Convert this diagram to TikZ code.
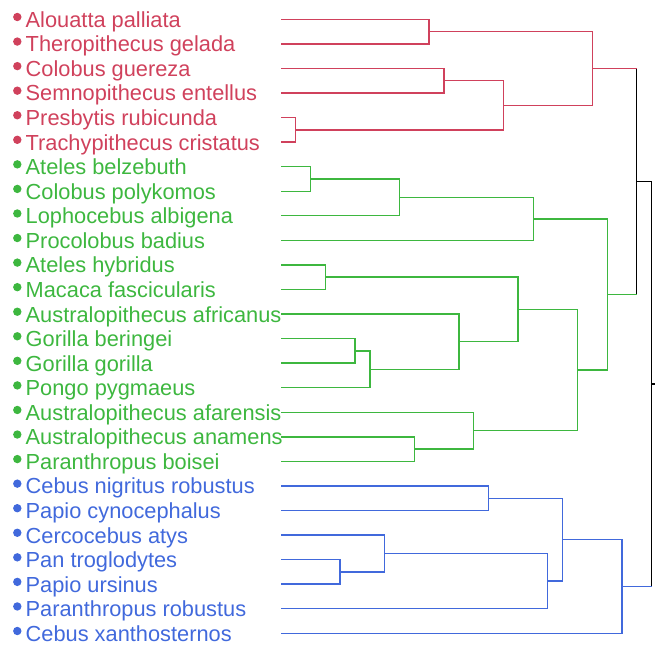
\documentclass[tikz,border=0pt]{standalone}
\usepackage{fontspec}
\setmainfont{Liberation Sans}
\usepackage{tikz}
\usetikzlibrary{calc}

\definecolor{cladered}{RGB}{208,65,92}
\definecolor{cladegreen}{RGB}{61,183,63}
\definecolor{cladeblue}{RGB}{65,105,220}

\tikzset{
  branch/.style={line width=1.4pt},
  leafdot/.style={circle, fill, inner sep=0pt, minimum size=8.4pt},
  leaflabel/.style={anchor=base west, inner sep=0pt,
    font=\fontsize{21.8}{24}\selectfont},
}

\begin{document}
\begin{tikzpicture}[x=1pt,y=-1pt]
\useasboundingbox (0,0) rectangle (655,645);

\foreach[count=\k] \name/\col in {
  Alouatta palliata/cladered, Theropithecus gelada/cladered,
  Colobus guereza/cladered, Semnopithecus entellus/cladered,
  Presbytis rubicunda/cladered, Trachypithecus cristatus/cladered,
  Ateles belzebuth/cladegreen, Colobus polykomos/cladegreen,
  Lophocebus albigena/cladegreen, Procolobus badius/cladegreen,
  Ateles hybridus/cladegreen, Macaca fascicularis/cladegreen,
  Australopithecus africanus/cladegreen, Gorilla beringei/cladegreen,
  Gorilla gorilla/cladegreen, Pongo pygmaeus/cladegreen,
  Australopithecus afarensis/cladegreen, Australopithecus anamens/cladegreen,
  Paranthropus boisei/cladegreen,
  Cebus nigritus robustus/cladeblue, Papio cynocephalus/cladeblue,
  Cercocebus atys/cladeblue, Pan troglodytes/cladeblue,
  Papio ursinus/cladeblue, Paranthropus robustus/cladeblue,
  Cebus xanthosternos/cladeblue} {
  \pgfmathsetmacro\yy{19.3+24.56*(\k-1)}
  \coordinate (l\k) at (281,\yy);
  \node[leafdot, \col] (d\k) at (17.3,\yy-2.3) {};
  \node[leaflabel, text=\col] (t\k) at (25.5,\yy+8) {\name};
}

% clades: name / height / children / colour
\foreach \name/\x/\a/\b/\col in {
  c1/429/l1/l2/cladered, c2/444/l3/l4/cladered, c3/295.7/l5/l6/cladered,
  c4/503.3/c2/c3/cladered, c5/592.3/c1/c4/cladered,
  c6/310.3/l7/l8/cladegreen, c7/399.3/c6/l9/cladegreen,
  c8/533.3/c7/l10/cladegreen, c9/325.3/l11/l12/cladegreen,
  c10/355/l14/l15/cladegreen, c11/370/c10/l16/cladegreen,
  c12/459/l13/c11/cladegreen, c13/518/c9/c12/cladegreen,
  c14/414.3/l18/l19/cladegreen, c15/473.3/l17/c14/cladegreen,
  c16/577.3/c13/c15/cladegreen, c17/607.3/c8/c16/cladegreen,
  c18/636.7/c5/c17/black,
  c19/488.7/l20/l21/cladeblue, c20/340/l23/l24/cladeblue,
  c21/384.7/l22/c20/cladeblue, c22/547.7/c21/l25/cladeblue,
  c23/562.7/c19/c22/cladeblue, c24/622/c23/l26/cladeblue,
  c25/651.7/c18/c24/black} {
  \path ($(\a)!.5!(\b)$) coordinate (m);
  \coordinate (\name) at (m -| \x,0);
  \draw[branch, \col] (\a) -| (\name) |- (\b);
}

% coloured stems into the black joins
\draw[branch, cladered] (c5) -- (c5 -| c18);
\draw[branch, cladegreen] (c17) -- (c17 -| c18);
\draw[branch, cladeblue] (c24) -- (c24 -| c25);
\coordinate (stub) at (655,0 |- c25);
\draw[branch] (c25) -- (stub);

\end{tikzpicture}
\end{document}
